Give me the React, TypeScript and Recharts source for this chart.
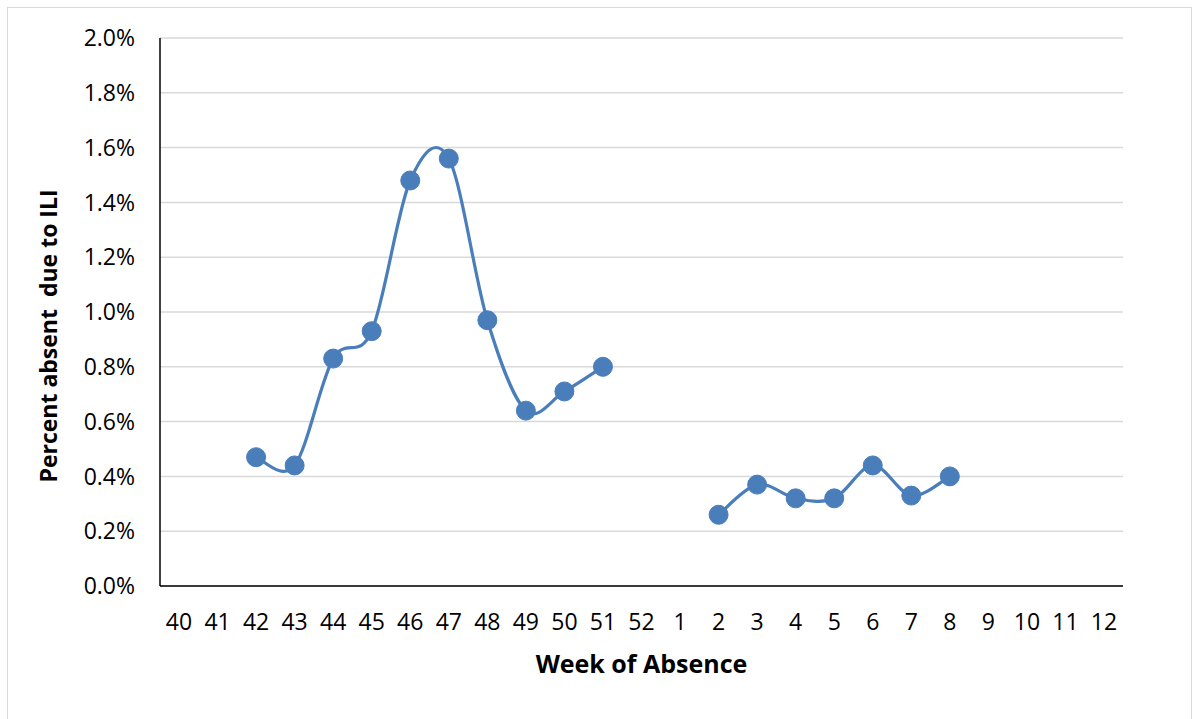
import React from 'react';
import { LineChart, Line, XAxis, YAxis, CartesianGrid, Label } from 'recharts';

const weeks = ['40', '41', '42', '43', '44', '45', '46', '47', '48', '49', '50', '51', '52',
  '1', '2', '3', '4', '5', '6', '7', '8', '9', '10', '11', '12'];
// percent absent due to ILI, null = no data that week
const percentAbsent = [null, null, 0.47, 0.44, 0.83, 0.93, 1.48, 1.56, 0.97, 0.64, 0.71, 0.80, null,
  null, 0.26, 0.37, 0.32, 0.32, 0.44, 0.33, 0.40, null, null, null, null];
const yTicks = [0, 0.2, 0.4, 0.6, 0.8, 1.0, 1.2, 1.4, 1.6, 1.8, 2.0];

const data = weeks.map((week, i) => ({ week, pct: percentAbsent[i] }));

const FONT = '"Open Sans", Lato, sans-serif';
const BLUE = '#4a7ebb';

// Excel-style smoothed line (Catmull-Rom through the points)
const smoothCurve = (context: any) => {
  let pts: [number, number][] = [];
  return {
    areaStart() {},
    areaEnd() {},
    lineStart() { pts = []; },
    point(x: number, y: number) { pts.push([+x, +y]); },
    lineEnd() {
      const n = pts.length;
      if (!n) return;
      context.moveTo(pts[0][0], pts[0][1]);
      if (n === 1) return;
      for (let i = 0; i < n - 1; i++) {
        const p0 = pts[i - 1] || pts[i];
        const p1 = pts[i];
        const p2 = pts[i + 1];
        const p3 = pts[i + 2] || p2;
        context.bezierCurveTo(
          p1[0] + (p2[0] - p0[0]) / 6, p1[1] + (p2[1] - p0[1]) / 6,
          p2[0] - (p3[0] - p1[0]) / 6, p2[1] - (p3[1] - p1[1]) / 6,
          p2[0], p2[1],
        );
      }
    },
  };
};

// y-axis title sits a little below the plot centre, like the original
const YTitle = () => (
  <text
    x={57}
    y={336}
    transform="rotate(-90 57 336)"
    textAnchor="middle"
    fill="#000"
    style={{ fontSize: 23, fontWeight: 'bold', fontFamily: FONT, whiteSpace: 'pre' }}
  >
    {'Percent absent\u00a0 due to ILI'}
  </text>
);

export default function App() {
  return (
    <div style={{ position: 'absolute', left: 0, top: 0, width: 1199, height: 719, background: '#fff' }}>
      <div style={{ position: 'absolute', left: 7, top: 7, width: 1185, height: 720, border: '1.5px solid #d9d9d9', boxSizing: 'border-box' }} />
      <LineChart width={1199} height={719} data={data} margin={{ top: 38, right: 76, left: 0, bottom: 0 }}>
        <CartesianGrid vertical={false} stroke="#d9d9d9" strokeWidth={1.5} />
        <XAxis
          dataKey="week"
          interval={0}
          height={133}
          padding={{ left: 19, right: 19 }}
          tickLine={false}
          tickSize={0}
          tickMargin={28}
          axisLine={{ stroke: '#000', strokeWidth: 1.5 }}
          tick={{ fill: '#000', fontSize: 23, fontFamily: FONT }}
        >
          <Label
            value="Week of Absence"
            position="insideBottom"
            offset={46}
            style={{ fill: '#000', fontSize: 25, fontWeight: 'bold', fontFamily: FONT }}
          />
        </XAxis>
        <YAxis
          width={160}
          domain={[0, 2]}
          ticks={yTicks}
          tickFormatter={(v: number) => `${v.toFixed(1)}%`}
          tickLine={false}
          tickSize={0}
          tickMargin={25}
          axisLine={{ stroke: '#000', strokeWidth: 1.5 }}
          tick={{ fill: '#000', fontSize: 23, fontFamily: FONT }}
        >
          <Label content={<YTitle />} />
        </YAxis>
        <Line
          dataKey="pct"
          type={smoothCurve as any}
          stroke={BLUE}
          strokeWidth={3.2}
          dot={{ r: 9.5, fill: BLUE, stroke: BLUE, strokeWidth: 1 }}
          activeDot={false}
          connectNulls={false}
          isAnimationActive={false}
        />
      </LineChart>
    </div>
  );
}
